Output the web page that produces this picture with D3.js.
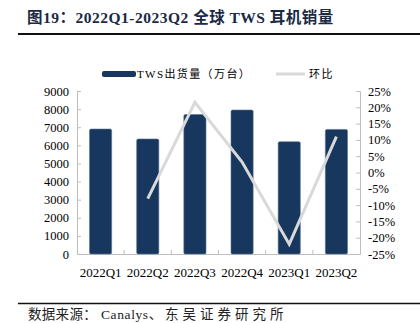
<!DOCTYPE html>
<html><head><meta charset="utf-8">
<script src="https://cdn.jsdelivr.net/npm/d3@7"></script>
<style>body{margin:0;background:#fff}svg{display:block}</style>
</head><body>
<svg id="c" width="420" height="323"></svg>
<script>
const categories = ["2022Q1","2022Q2","2022Q3","2022Q4","2023Q1","2023Q2"];
const shipments = [6900, 6350, 7700, 7950, 6200, 6880];
const qoq = [null, -8, 21.5, 3.2, -22, 11];
const leftTicks = [0,1000,2000,3000,4000,5000,6000,7000,8000,9000];
const rightTicks = [-25,-20,-15,-10,-5,0,5,10,15,20,25];

const svg = d3.select("#c");
const serif = "'Liberation Serif','Times New Roman',serif";
const cjk = "'Liberation Serif','Noto Sans CJK SC',serif";
const L = 77, R = 360, T = 91, B = 254;
const axisCol = "#bfbfbf";
const barCol = "#17375e";
const lineCol = "#d9d9d9";

// title
svg.append("text").attr("x", 27).attr("y", 23)
  .attr("font-family", cjk).attr("font-weight", "bold").attr("font-size", 15.5)
  .attr("letter-spacing", 0.5)
  .attr("fill", "#1a2a44").text("图19：2022Q1-2023Q2 全球 TWS 耳机销量");
svg.append("line").attr("x1", 18).attr("x2", 420).attr("y1", 34).attr("y2", 34)
  .attr("stroke", "#111").attr("stroke-width", 2);

const x = d3.scaleBand().domain(categories).range([L, R]).paddingInner(0.53).paddingOuter(0.265);
const xb = d3.scaleBand().domain(categories).range([L, R]);
const y = d3.scaleLinear().domain([0, 9000]).range([B, T]);
const y2 = d3.scaleLinear().domain([-25, 25]).range([B, T]);

// axes
const gl = svg.append("g").attr("transform", `translate(${L},0)`)
  .call(d3.axisLeft(y).tickValues(leftTicks).tickSize(-4).tickPadding(8).tickFormat(d3.format("d")));
const gr = svg.append("g").attr("transform", `translate(${R},0)`)
  .call(d3.axisRight(y2).tickValues(rightTicks).tickSize(-4).tickPadding(8).tickFormat(d => d + "%"));
const gx = svg.append("g").attr("transform", `translate(0,${B})`)
  .call(d3.axisBottom(xb).tickSize(0).tickPadding(14));
[gl, gr, gx].forEach(g => {
  g.select(".domain").attr("stroke", axisCol).attr("stroke-width", 1);
  g.selectAll(".tick line").attr("stroke", axisCol);
  g.selectAll("text").attr("font-family", serif).attr("font-size", 12.5).attr("fill", "#000");
});
gx.selectAll("text").attr("font-size", 13);
// category boundary ticks on x axis
svg.append("g").selectAll("line").data(categories.slice(1)).join("line")
  .attr("x1", d => xb(d)).attr("x2", d => xb(d)).attr("y1", B).attr("y2", B - 4)
  .attr("stroke", axisCol);

// bars
svg.append("g").selectAll("rect").data(categories).join("rect")
  .attr("x", d => x(d)).attr("width", x.bandwidth())
  .attr("y", (d, i) => y(shipments[i])).attr("height", (d, i) => B - y(shipments[i]))
  .attr("rx", 1.5).attr("fill", barCol).attr("stroke", "#5a7394").attr("stroke-width", 0.6);

// line
const pts = categories.map((c, i) => [xb(c) + xb.bandwidth() / 2, qoq[i]]).filter(p => p[1] !== null);
svg.append("path").datum(pts)
  .attr("d", d3.line().x(p => p[0]).y(p => y2(p[1])))
  .attr("fill", "none").attr("stroke", lineCol).attr("stroke-width", 3);

// legend
svg.append("rect").attr("x", 102).attr("y", 71).attr("width", 34).attr("height", 6).attr("rx", 2).attr("fill", barCol);
svg.append("text").attr("x", 137).attr("y", 78).attr("font-family", cjk).attr("font-size", 11)
  .attr("letter-spacing", 1.4).attr("fill", "#000").text("TWS出货量（万台）");
svg.append("line").attr("x1", 276).attr("x2", 305).attr("y1", 74).attr("y2", 74)
  .attr("stroke", lineCol).attr("stroke-width", 3);
svg.append("text").attr("x", 309).attr("y", 78).attr("font-family", cjk).attr("font-size", 11)
  .attr("letter-spacing", 1.4).attr("fill", "#000").text("环比");

// footer
svg.append("line").attr("x1", 18).attr("x2", 420).attr("y1", 303.5).attr("y2", 303.5)
  .attr("stroke", "#111").attr("stroke-width", 1.5);
const src = svg.append("text").attr("y", 319).attr("font-family", cjk).attr("font-size", 13.5).attr("fill", "#222");
src.append("tspan").attr("x", 28).attr("letter-spacing", 0.3).text("数据来源：");
src.append("tspan").attr("x", 101).attr("letter-spacing", 0.6).text("Canalys、");
src.append("tspan").attr("x", 165).attr("letter-spacing", 4).text("东吴证券研究所");
</script>
</body></html>
